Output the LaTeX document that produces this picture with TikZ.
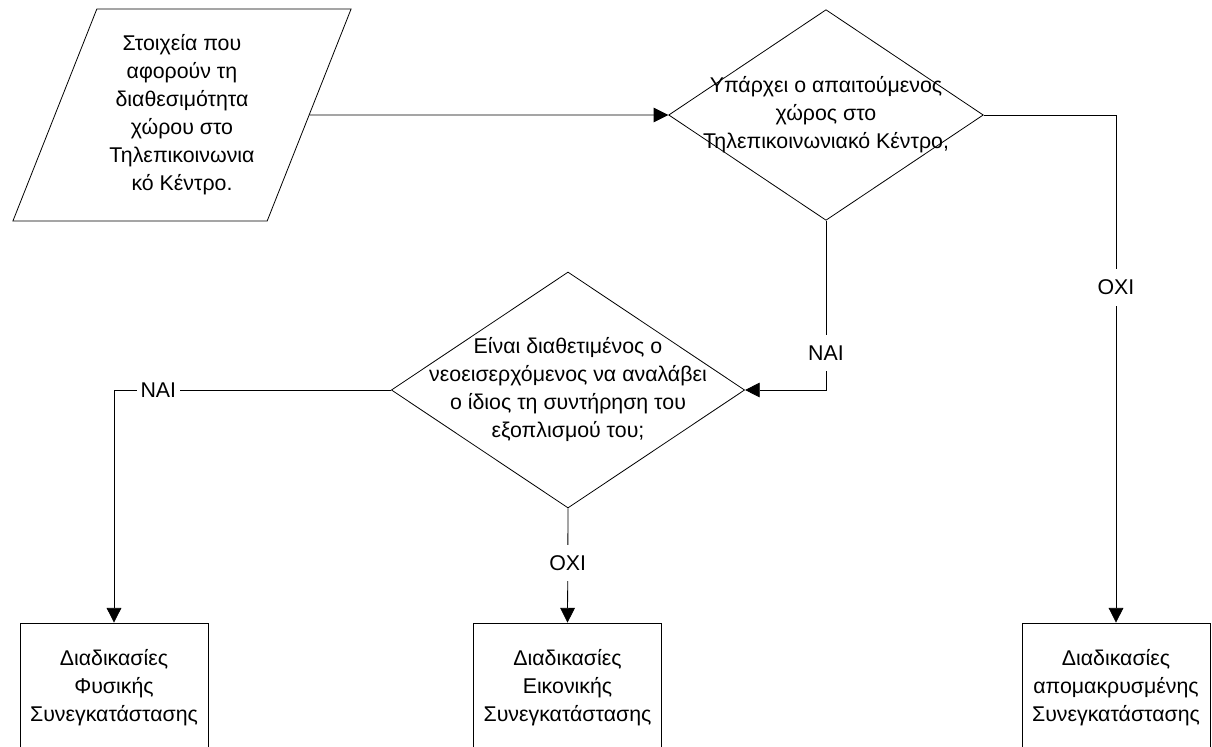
\documentclass[tikz,border=0pt]{standalone}
\usepackage{fontspec}
\setmainfont{Liberation Sans}
\usetikzlibrary{shapes.geometric}
\usetikzlibrary{arrows.meta, positioning}

\begin{document}
\begin{tikzpicture}[x=0.75pt, y=-0.75pt, line width=0.6pt,
    font=\fontsize{16}{21}\selectfont,
    iobox/.style={draw, trapezium, trapezium left angle=66, trapezium right angle=114,
        trapezium stretches=true, minimum width=254pt, minimum height=159pt,
        inner sep=0pt, align=center},
    decision/.style={draw, diamond, inner sep=0pt},
    procbox/.style={draw, rectangle, minimum width=141pt, minimum height=97.5pt, align=center},
    flow/.style={-{Triangle[length=11pt, width=11pt]}},
    answer/.style={fill=white, inner xsep=3pt, inner ysep=8pt}]
    \useasboundingbox (0,0) rectangle (1212,746);
    \clip (0,0) rectangle (1212,746);

    \node[iobox] (data) at (182,115) {Στοιχεία που\\αφορούν τη\\διαθεσιμότητα\\χώρου στο\\Τηλεπικοινωνια\\κό Κέντρο.};

    \node[decision, minimum width=236pt, minimum height=158pt] (q1) at (826,115) {};
    \node[align=center] (q1text) at (q1) {Υπάρχει ο απαιτούμενος\\χώρος στο\\Τηλεπικοινωνιακό Κέντρο,};

    \node[decision, minimum width=265pt, minimum height=177pt] (q2) at (568,390) {};
    \node[align=center] (q2text) at (q2) {Είναι διαθετιμένος ο\\νεοεισερχόμενος να αναλάβει\\ο ίδιος τη συντήρηση του\\εξοπλισμού του;};

    \node[procbox] (b1) at (114,688) {Διαδικασίες\\Φυσικής\\Συνεγκατάστασης};
    \node[procbox] (b2) at (567.5,688) {Διαδικασίες\\Εικονικής\\Συνεγκατάστασης};
    \node[procbox] (b3) at (1116,688) {Διαδικασίες\\απομακρυσμένης\\Συνεγκατάστασης};

    \draw[flow] (data.east) -- (q1.west);
    \draw[flow] (q1.east) -| node[answer, pos=0.67] {ΟΧΙ} (b3.north);
    \draw[flow] (q1.south) |- node[answer, pos=0.39] {ΝΑΙ} (q2.east);
    \draw[flow] (q2.west) -| node[answer, pos=0.42] {ΝΑΙ} (b1.north);
    \draw[flow] (q2.south) -- node[answer, pos=0.48] {ΟΧΙ} (b2.north);
\end{tikzpicture}
\end{document}
